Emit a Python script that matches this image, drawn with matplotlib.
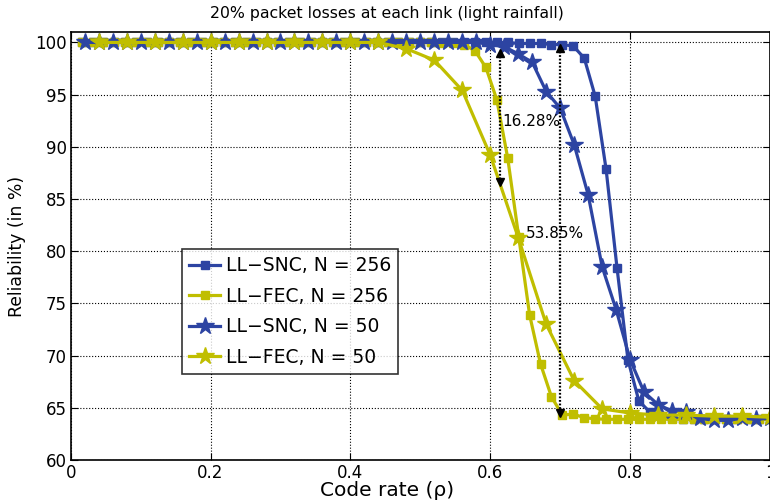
import numpy as np
import matplotlib
matplotlib.use('Agg')
import matplotlib.pyplot as plt

plt.rcParams['font.family'] = ['DejaVu Sans']

# code rates: N = 256 curves sampled every 4/256, N = 50 curves every 1/50 (SNC) and 2/50 (FEC)
rate_256 = np.arange(1, 65) / 64
rate_snc50 = np.arange(1, 51) / 50
rate_fec50 = np.arange(1, 26) / 25

snc_256 = [100, 100, 100, 100, 100, 100, 100, 100, 100, 100,
           100, 100, 100, 100, 100, 100, 100, 100, 100, 100,
           100, 100, 100, 100, 100, 100, 100, 100, 100, 100,
           100, 100, 100, 100, 100, 100, 100, 100, 100, 100,
           99.9, 99.9, 99.9, 99.8, 99.8, 99.65, 98.5, 94.85, 87.85, 78.4,
           69.6, 65.65, 64.6, 64.2, 64.0, 63.9, 63.9, 63.9, 63.9, 63.9,
           63.9, 63.9, 63.9, 63.9]
fec_256 = [100, 100, 100, 100, 100, 100, 100, 100, 100, 100,
           100, 100, 100, 100, 100, 100, 100, 100, 100, 100,
           100, 100, 100, 100, 100, 100, 100, 100, 100, 100,
           100, 100, 100, 99.95, 99.9, 99.8, 99.2, 97.6, 94.5, 88.9,
           81.4, 73.9, 69.2, 66.05, 64.3, 64.4, 64.05, 63.95, 63.9, 63.9,
           63.9, 63.9, 63.9, 63.9, 63.9, 63.9, 63.9, 63.9, 63.9, 63.9,
           63.9, 63.9, 63.9, 63.9]
snc_50 = [100, 100, 100, 100, 100, 100, 100, 100, 100, 100,
          100, 100, 100, 100, 100, 100, 100, 100, 100, 100,
          100, 100, 100, 100, 100, 100, 100, 100, 100, 99.8,
          99.6, 98.9, 98.1, 95.3, 93.7, 90.2, 85.4, 78.5, 74.4, 69.6,
          66.5, 65.3, 64.7, 64.6, 64.0, 63.8, 63.8, 64.0, 63.9, 64.0]
fec_50 = [100, 100, 100, 100, 100, 100, 100, 100, 100, 100,
          100, 99.4, 98.3, 95.4, 89.2, 81.3, 73.0, 67.6, 64.9, 64.5,
          64.3, 64.3, 64.2, 64.2, 64.1]

# gain annotations: (rate, top, bottom, label)
gains = [(0.614, 98.95, 86.65, '16.28%'), (0.70, 99.5, 64.5, '53.85%')]
gain_text_pos = [(0.617, 92.4), (0.651, 81.7)]

blue = '#2D44A2'
yellow = '#C0BE00'

fig = plt.figure(figsize=(7.7, 5.03), dpi=100)
ax = fig.add_axes([70.7 / 770, 1 - 460 / 503, (770 - 70.7) / 770, (460 - 32) / 503])

ax.plot(rate_256, snc_256, color=blue, lw=2.3, marker='s', ms=6, label='LL\u2212SNC, N = 256')
ax.plot(rate_256, fec_256, color=yellow, lw=2.3, marker='s', ms=6, label='LL\u2212FEC, N = 256')
ax.plot(rate_snc50, snc_50, color=blue, lw=2.3, marker='*', ms=13, label='LL\u2212SNC, N = 50')
ax.plot(rate_fec50, fec_50, color=yellow, lw=2.3, marker='*', ms=13, label='LL\u2212FEC, N = 50')

for (x, top, bot, lab), (tx, ty) in zip(gains, gain_text_pos):
    ax.plot([x, x], [top, bot], color='k', lw=1.6, dashes=(0.8, 0.8))
    ax.plot([x], [top], color='k', marker='^', ms=6, ls='none')
    ax.plot([x], [bot], color='k', marker='v', ms=6, ls='none')
    ax.text(tx, ty, lab, fontsize=11, va='center', ha='left')

ax.set_xlim(0, 1)
ax.set_ylim(60, 101)
ax.set_xticks([0, 0.2, 0.4, 0.6, 0.8, 1])
ax.set_xticklabels(['0', '0.2', '0.4', '0.6', '0.8', '1'])
ax.set_yticks(range(60, 101, 5))
ax.grid(True, color='k', ls=':', lw=0.8)
ax.tick_params(direction='in', top=True, right=True, labelsize=12, length=5, width=0.8, pad=3)
for s in ax.spines.values():
    s.set_linewidth(1.2)

ax.set_title('20% packet losses at each link (light rainfall)', fontsize=11.3, x=0.452, pad=10)
ax.set_xlabel('Code rate (\u03c1)', fontsize=14.5)
ax.xaxis.set_label_coords(0.452, -0.05)
ax.set_ylabel('Reliability (in %)', fontsize=12.4)
ax.yaxis.set_label_coords(-0.064, 0.5)

leg = ax.legend(loc='upper left', bbox_to_anchor=(0.1586, 0.494), fontsize=13.5,
                frameon=True, fancybox=False, edgecolor='k', borderaxespad=0,
                handlelength=1.65, labelspacing=0.62, handletextpad=0.3, borderpad=0.4)
leg.get_frame().set_linewidth(1.2)

fig.savefig('out.png', dpi=100)
